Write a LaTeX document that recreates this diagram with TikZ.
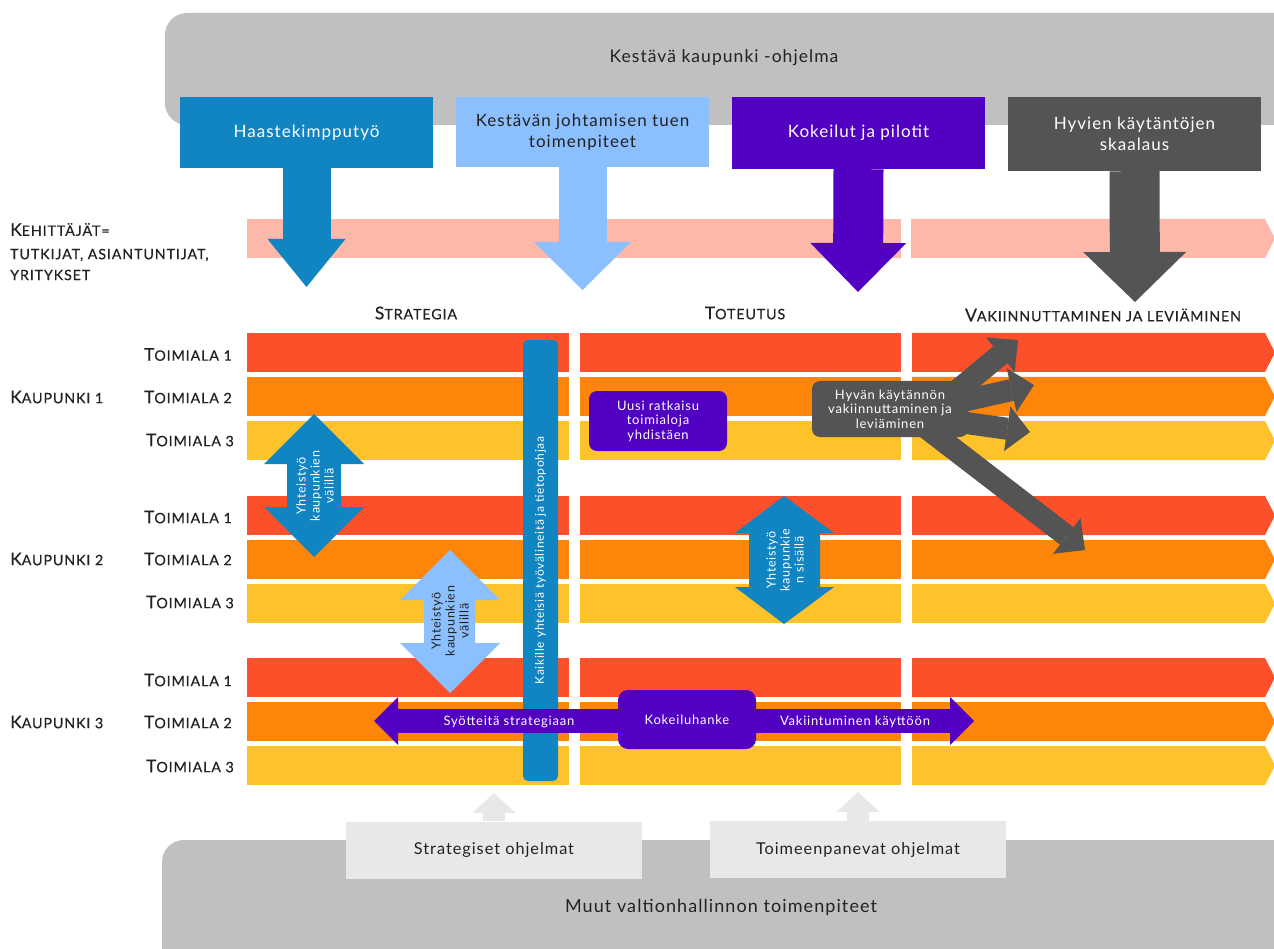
\documentclass[tikz,border=0pt]{standalone}
\usepackage{fontspec}
\setmainfont{Lato}[LetterSpace=6]
\newfontfamily\scfont{Lato}[LetterSpace=6,FakeBold=0.4]
\usetikzlibrary{arrows.meta}
\definecolor{cblue}{HTML}{1185C1}
\definecolor{clblue}{HTML}{8BBFFD}
\definecolor{cpurple}{HTML}{5200C1}
\definecolor{cdgray}{HTML}{545454}
\definecolor{cgray}{HTML}{C0C0C0}
\definecolor{clgray}{HTML}{E8E8E8}
\definecolor{cpink}{HTML}{FDB8AA}
\definecolor{crA}{HTML}{FC502A}
\definecolor{crB}{HTML}{FD860A}
\definecolor{crC}{HTML}{FEC22A}
\definecolor{ctext}{HTML}{222222}
\newcommand\sct[2]{{\fontsize{17.5}{19}\selectfont #1}{\fontsize{14.3}{16}\selectfont #2}}
\newcommand\scs[1]{{\fontsize{14.3}{16}\selectfont #1}}
\begin{document}
\begin{tikzpicture}[x=1pt,y=-1pt,
  lab/.style={inner sep=0pt, text=ctext, font=\scfont},
  hbox/.style={minimum width=253pt, inner sep=2pt, align=center, font=\fontsize{17}{21.5}\selectfont},
  rot/.style={rotate=90, align=center, inner sep=0pt, font=\fontsize{12.5}{14}\selectfont},
  small/.style={align=center, inner sep=0pt, text=white, font=\fontsize{13}{14.5}\selectfont},
  bigarrow/.style={line width=48pt},
  fatarrow/.style={cdgray, line width=22pt, -{Triangle[length=23pt,width=45pt,line width=0pt]}},
  upgray/.style={clgray, line width=22pt, -{Triangle[length=20pt,width=43pt,line width=0pt]}},
  progbox/.style={fill=clgray, minimum width=296pt, minimum height=57pt, inner sep=0pt, text=ctext, font=\fontsize{16.3}{18}\selectfont},
]
\clip (0,0) rectangle (1274,949);
\fill[white] (0,0) rectangle (1274,949);

% top program box
\fill[cgray, rounded corners=22pt] (165,13) rectangle (1320,125);
\node[font=\fontsize{17.5}{20}\selectfont, text=ctext] (prog) at (724,58) {Kestävä kaupunki -ohjelma};

% bottom box
\fill[cgray, rounded corners=22pt] (162,840) rectangle (1320,990);
\node[font=\fontsize{18}{20}\selectfont, text=ctext] (muut) at (721,907) {Muut valtionhallinnon toimenpiteet};

% pink band
\fill[cpink] (247,219) rectangle (901,258);
\fill[cpink] (911,219) -- (1265,219) -- (1275,238.5) -- (1265,258) -- (911,258) -- cycle;

% rows
\foreach \yy/\cc in {333/crA,377/crB,421/crC,496/crA,540/crB,584/crC,658/crA,702/crB,746/crC}{
  \fill[\cc] (247,\yy) rectangle (569,\yy+39);
  \fill[\cc] (580,\yy) rectangle (901,\yy+39);
  \fill[\cc] (912,\yy) -- (1265,\yy) -- (1275,\yy+19.5) -- (1265,\yy+39) -- (912,\yy+39) -- cycle;
}

% header boxes
\node[hbox, fill=cblue, minimum height=71pt, text=white] (h1) at (306.5,132.5) {Haastekimpputyö};
\node[hbox, fill=clblue, minimum height=70pt, text=ctext] (h2) at (582.5,132) {Kestävän johtamisen tuen\\toimenpiteet};
\node[hbox, fill=cpurple, minimum height=72pt, text=white] (h3) at (858.5,133) {Kokeilut ja pilotit};
\node[hbox, fill=cdgray, minimum height=74pt, text=white] (h4) at (1134.5,134) {Hyvien käytäntöjen\\skaalaus};

\coordinate (a1) at (306.5,287);
\coordinate (a2) at (582.5,290);
\coordinate (a3) at (858,292);
\coordinate (a4) at (1135,302);
\draw[cblue, bigarrow, -{Triangle[length=48pt,width=78pt,line width=0pt]}] (h1.south) -- (a1);
\draw[clblue, bigarrow, -{Triangle[length=48pt,width=97pt,line width=0pt]}] (h2.south) -- (a2);
\draw[cpurple, line width=50pt, -{Triangle[length=49pt,width=96pt,line width=0pt]}] (h3.south) -- (a3);
\draw[cdgray, line width=50pt, -{Triangle[length=50pt,width=103pt,line width=0pt]}] (h4.south) -- (a4);

% left labels
\node[lab, anchor=west] (keh1) at (10,229.5) {\sct{K}{EHITTÄJÄT=}};
\node[lab, anchor=west] (keh2) at (10,255) {\scs{TUTKIJAT, ASIANTUNTIJAT,}};
\node[lab, anchor=west] (keh3) at (10,275) {\scs{YRITYKSET}};

\node[lab] (colS) at (416,313) {\sct{S}{TRATEGIA}};
\node[lab] (colT) at (745,313) {\sct{T}{OTEUTUS}};
\node[lab] (colV) at (1103,315) {\sct{V}{AKIINNUTTAMINEN JA LEVIÄMINEN}};

\node[lab, anchor=west] (k1) at (10,397) {\sct{K}{AUPUNKI 1}};
\node[lab, anchor=west] (k2) at (10,559) {\sct{K}{AUPUNKI 2}};
\node[lab, anchor=west] (k3) at (10,722) {\sct{K}{AUPUNKI 3}};

\node[lab, anchor=east] (t11) at (232,354.5) {\sct{T}{OIMIALA 1}};
\node[lab, anchor=east] (t12) at (232,397) {\sct{T}{OIMIALA 2}};
\node[lab, anchor=east] (t13) at (234,440) {\sct{T}{OIMIALA 3}};
\node[lab, anchor=east] (t21) at (232,517) {\sct{T}{OIMIALA 1}};
\node[lab, anchor=east] (t22) at (232,559) {\sct{T}{OIMIALA 2}};
\node[lab, anchor=east] (t23) at (234,602) {\sct{T}{OIMIALA 3}};
\node[lab, anchor=east] (t31) at (232,680) {\sct{T}{OIMIALA 1}};
\node[lab, anchor=east] (t32) at (232,722) {\sct{T}{OIMIALA 2}};
\node[lab, anchor=east] (t33) at (234,766) {\sct{T}{OIMIALA 3}};

% shared tools bar
\node[rot, fill=cblue, rounded corners=5pt, minimum width=441pt, minimum height=35pt, text=white, font=\fontsize{12}{14}\selectfont] (tools) at (540.5,560.5) {Kaikille yhteisiä työvälineitä ja tietopohjaa};

% double arrows
\fill[cblue] (314,414) -- (364,464) -- (341,464) -- (341,507) -- (364,507) -- (314,557) -- (264,507) -- (287,507) -- (287,464) -- (264,464) -- cycle;
\node[rot, text=white] (yk1) at (315,486) {Yhteistyö\\kaupunkien\\välillä};

\fill[clblue] (450,550) -- (500,600) -- (475,600) -- (475,643) -- (500,643) -- (450,693) -- (400,643) -- (424,643) -- (424,600) -- (400,600) -- cycle;
\node[rot, text=ctext] (yk2) at (450,621) {Yhteistyö\\kaupunkien\\välillä};

\fill[cblue] (784,496) -- (834,533) -- (820,533) -- (820,587) -- (834,587) -- (784,624) -- (735,587) -- (749,587) -- (749,533) -- (735,533) -- cycle;
\node[rot, text=white] (yk3) at (785,560) {Yhteistyö\\kaupunkie\\n sisällä};

% new solution box
\node[small, fill=cpurple, rounded corners=8pt, minimum width=138pt, minimum height=60pt] (uusi) at (658,421) {Uusi ratkaisu\\toimialoja\\yhdistäen};

% good practice arrows
\coordinate (s1) at (940,405);
\coordinate (s2) at (945,405);
\coordinate (s3) at (945,420);
\coordinate (s4) at (925,427);
\coordinate (g1) at (1018,340);
\coordinate (g2) at (1034,385);
\coordinate (g3) at (1030,432);
\coordinate (g4) at (1085,550);
\draw[fatarrow] (s1) -- (g1);
\draw[fatarrow] (s2) -- (g2);
\draw[fatarrow] (s3) -- (g3);
\draw[fatarrow] (s4) -- (g4);
\node[small, fill=cdgray, rounded corners=8pt, minimum width=156pt, minimum height=56pt] (hyva) at (890,409) {Hyvän käytännön\\vakiinnuttaminen ja\\leviäminen};

% pilot project arrows
\coordinate (pl) at (374,721);
\coordinate (pr) at (974,721);
\coordinate (kc) at (687,721);
\draw[cpurple, line width=24pt, -{Triangle[length=24pt,width=48pt,line width=0pt]}] (kc) -- (pl);
\draw[cpurple, line width=24pt, -{Triangle[length=24pt,width=48pt,line width=0pt]}] (kc) -- (pr);
\node[small, fill=cpurple, rounded corners=10pt, minimum width=138pt, minimum height=59pt] (kok) at (687,719.5) {Kokeiluhanke};
\node[small] (syo) at (509,722) {Syötteitä strategiaan};
\node[small] (vak) at (855,722) {Vakiintuminen käyttöön};

% bottom programmes
\node[progbox] (so) at (494,850) {Strategiset ohjelmat};
\node[progbox] (to) at (858,849.5) {Toimeenpanevat ohjelmat};
\coordinate (u1) at (494,793);
\coordinate (u2) at (858,792);
\draw[upgray] (so.north) -- (u1);
\draw[upgray] (to.north) -- (u2);
\end{tikzpicture}
\end{document}
